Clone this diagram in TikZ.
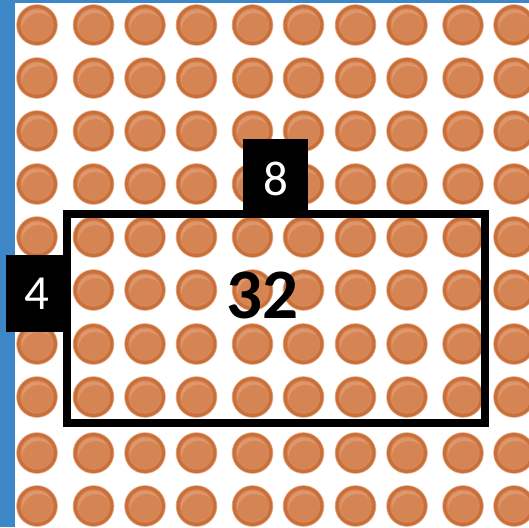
\documentclass[tikz,border=0pt]{standalone}
\usepackage{fontspec}
\setmainfont{Carlito}

\definecolor{edgeblue}{RGB}{61,134,200}
\definecolor{beadrim}{RGB}{203,111,56}
\definecolor{beadface}{RGB}{213,132,84}
\definecolor{beadglow}{RGB}{226,160,120}

\begin{document}
\begin{tikzpicture}[x=1pt, y=-1pt, line join=miter]

	% ================= 1. styles =================
	\tikzset{
		bead/.pic={
			\fill[beadrim!55!white] (0,0) circle (20.8);
			\fill[beadrim] (0,0) circle (20);
			\fill[beadface] (0,0) circle (16.8);
			\begin{scope}
				\clip (0,0) circle (15.5);
				\fill[beadglow, opacity=0.7, even odd rule]
					(0,0) circle (15.5) (2,5) circle (17);
			\end{scope}
		},
		sidebox/.style={fill=black, text=white, inner sep=0pt,
			font=\fontsize{49}{49}\selectfont},
		total/.style={font=\bfseries\fontsize{71}{71}\selectfont}
	}

	\useasboundingbox (0,0) rectangle (529,527);
	\clip (0,0) rectangle (529,527);

	% ================= 2. frame of the page =================
	\fill[edgeblue] (0,0) rectangle (15,527);
	\fill[edgeblue] (0,0) rectangle (529,3);

	% ================= 3. the 10 x 10 beads =================
	\foreach \by in {25,78,131,184,237,290,344,397,453,506}
		\foreach \bx in {37,93.5,145,196.5,252.5,303.5,355.5,407,463,514}
			\pic at (\bx,\by) {bead};

	% ================= 4. the 4 x 8 array =================
	\draw[line width=7.5pt] (67,214) rectangle (485,423);

	\node[sidebox, minimum width=65pt, minimum height=79pt] (cols) at (275.5,178.5) {8};
	\node[sidebox, minimum width=62pt, minimum height=77pt] (rows) at (37,293.5) {4};
	\node[total] (product) at (262.5,295.5) {32};

\end{tikzpicture}
\end{document}
